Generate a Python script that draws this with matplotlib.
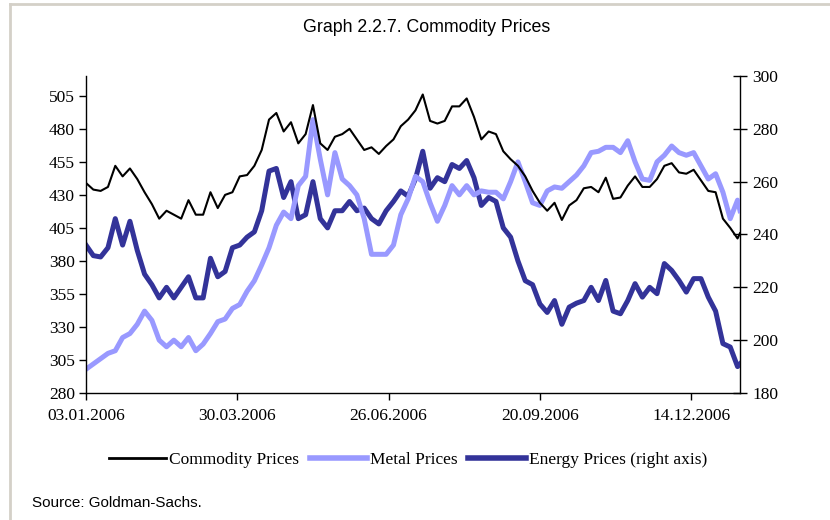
import matplotlib
matplotlib.use("Agg")
import matplotlib.pyplot as plt
from matplotlib.lines import Line2D
import numpy as np

# trading-day index of each sample (every 3rd session, plus the last one)
day_index = list(range(0, 268, 3)) + [268]

commodity = [439, 434, 433, 436, 452, 444, 450, 442, 432, 423,
             412, 418, 415, 412, 426, 415, 415, 432, 420, 430,
             432, 444, 445, 452, 464, 487, 492, 478, 485, 469,
             476, 498, 469, 464, 474, 476, 480, 472, 464, 466,
             461, 467, 472, 482, 487, 494, 506, 486, 484, 486,
             497, 497, 503, 489, 472, 478, 476, 463, 457, 452,
             444, 433, 424, 418, 424, 411, 422, 426, 435, 436,
             432, 443, 427, 428, 437, 444, 436, 436, 442, 452,
             454, 447, 446, 449, 441, 433, 432, 412, 405, 397, 401]

metal = [298, 302, 306, 310, 312, 322, 325, 332, 342, 335,
         320, 315, 320, 315, 322, 312, 317, 325, 334, 336,
         344, 347, 357, 365, 377, 390, 407, 417, 412, 437,
         444, 487, 457, 430, 462, 442, 437, 430, 412, 385,
         385, 385, 392, 415, 427, 444, 440, 424, 410, 422,
         437, 430, 437, 430, 433, 432, 432, 427, 440, 455,
         440, 424, 422, 433, 436, 435, 440, 445, 452, 462,
         463, 466, 466, 462, 471, 455, 442, 441, 455, 460,
         467, 462, 460, 462, 452, 442, 446, 432, 412, 426, 418]

energy = [236, 232, 231.5, 235, 246, 236, 245, 234, 225, 221,
          216, 220, 216, 220, 224, 216, 216, 231, 224, 226,
          235, 236, 239, 241, 249, 264, 265, 254, 260, 246,
          247.5, 260, 246, 242.5, 249, 249, 252.5, 249, 250, 246,
          244, 249, 252.5, 256.5, 254.5, 261, 271.5, 257.5, 261.5, 260,
          266.5, 265, 268, 261.5, 251, 254, 252.5, 242.5, 239, 230,
          222.5, 221, 213.7, 210.5, 215, 206, 212.5, 214, 215, 220,
          215, 222.6, 211, 210, 215, 221.4, 216.3, 220, 217.6, 229,
          226.4, 222.6, 218.2, 223.3, 223.3, 216.3, 211, 198.7, 197.4, 190, 191]

tick_index = [0, 62, 124, 186, 248]
tick_labels = ["03.01.2006", "30.03.2006", "26.06.2006", "20.09.2006", "14.12.2006"]
left_ticks = list(range(280, 506, 25))
right_ticks = list(range(180, 301, 20))

SERIF = ["Liberation Serif", "DejaVu Serif"]
SANS = ["Liberation Sans", "DejaVu Sans"]

c_comm = "#000000"
c_metal = "#9999FF"
c_energy = "#333399"

fig = plt.figure(figsize=(8.3, 5.2), dpi=100)
ax = fig.add_axes([86/830, 1-393/520, (740-86)/830, (393-76)/520])
ax2 = ax.twinx()

ax.plot(day_index, metal, color=c_metal, lw=3.6, solid_joinstyle="round", zorder=2)
ax2.plot(day_index, energy, color=c_energy, lw=3.6, solid_joinstyle="round", zorder=3)
ax.plot(day_index, commodity, color=c_comm, lw=1.5, zorder=4)
ax.set_zorder(ax2.get_zorder() + 1)
ax.patch.set_visible(False)

ax.set_xlim(0, 268)
ax.set_ylim(280, 520)
ax2.set_ylim(180, 300)
ax.set_yticks(left_ticks)
ax2.set_yticks(right_ticks)
ax.set_xticks(tick_index)
ax.set_xticklabels(tick_labels)

for a in (ax, ax2):
    a.spines["top"].set_visible(False)
    for s in a.spines.values():
        s.set_linewidth(1.0)
ax.spines["right"].set_visible(False)
ax2.spines["left"].set_visible(False)
ax2.spines["bottom"].set_visible(False)

ax.tick_params(axis="y", direction="out", length=5, width=1, pad=3)
ax.tick_params(axis="x", direction="out", length=5, width=1, pad=6)
ax2.tick_params(axis="y", direction="inout", length=10, width=1, pad=4)
for lab in ax.get_xticklabels() + ax.get_yticklabels() + ax2.get_yticklabels():
    lab.set_fontfamily(SERIF)
    lab.set_fontsize(12.5)

fig.text(427/830, 1-28/520, "Graph 2.2.7. Commodity Prices", ha="center", va="center",
         fontsize=12.8, family=SANS)
fig.text(32/830, 1-503/520, "Source: Goldman-Sachs.", ha="left", va="center",
         fontsize=11, family=SANS)

handles = [Line2D([], [], color=c_comm, lw=2),
           Line2D([], [], color=c_metal, lw=4),
           Line2D([], [], color=c_energy, lw=4)]
fig.legend(handles, ["Commodity Prices", "Metal Prices", "Energy Prices (right axis)"],
           loc="center", bbox_to_anchor=(408/830, 1-460/520), ncol=3, frameon=False,
           handlelength=3.3, handletextpad=0.2, columnspacing=0.6,
           prop={"family": SERIF, "size": 12.5})

# light grey frame lines (top and left)
fig.add_artist(Line2D([10/830, 1], [1-4/520, 1-4/520], color="#d4d0c8", lw=2,
                      transform=fig.transFigure))
fig.add_artist(Line2D([10/830, 10/830], [0, 1-4/520], color="#d4d0c8", lw=2,
                      transform=fig.transFigure))

fig.savefig("out.png", dpi=100)
